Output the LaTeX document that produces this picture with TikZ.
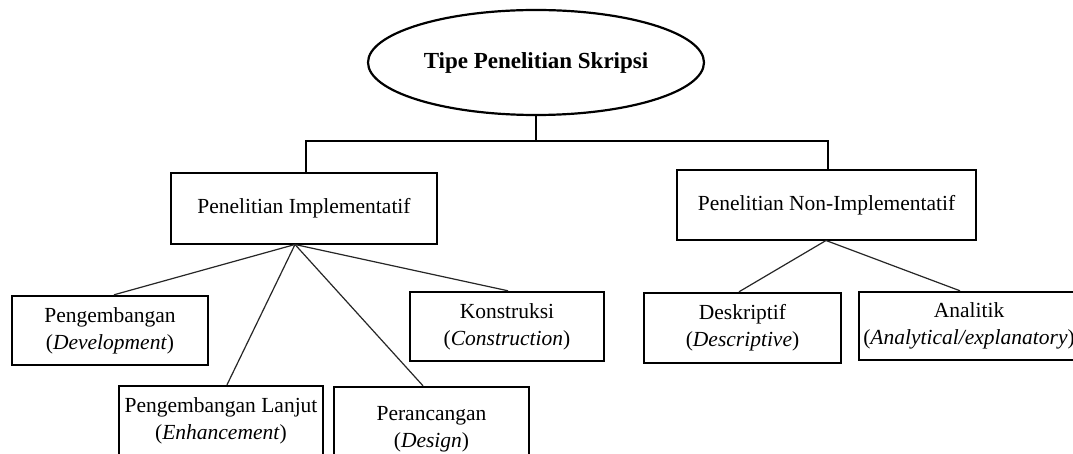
\documentclass[tikz,border=0pt]{standalone}
\usepackage{fontspec}
\setmainfont{Liberation Serif}
\usetikzlibrary{shapes.geometric,calc}
\tikzset{
  frame/.style={draw=black, line width=2.4pt, rectangle, align=center, inner sep=0pt,
    font=\fontsize{21.5}{27}\selectfont},
  oval/.style={draw=black, line width=2.2pt, ellipse, inner sep=0pt,
    font=\fontsize{23}{28}\selectfont\bfseries},
  trunk/.style={draw=black, line width=2.4pt},
  twig/.style={draw=black!85, line width=1.2pt}
}
\begin{document}
\begin{tikzpicture}[x=1pt,y=-1pt]
\useasboundingbox (0,0) rectangle (1073,454);
\clip (0,0) rectangle (1073,454);
\fill[white] (0,0) rectangle (1073,454);

\node[oval, minimum width=336, minimum height=105] (title) at (536,62.5) {Tipe Penelitian Skripsi};

\node[frame, minimum width=266, minimum height=71] (impl) at (304,208.5) {Penelitian Implementatif};
\node[frame, minimum width=299, minimum height=70] (nonimpl) at (826.5,205) {Penelitian Non-Implementatif};

\node[frame, minimum width=196, minimum height=69] (peng) at (110,330.5) {Pengembangan\\(\textit{Development})};
\node[frame, minimum width=204, minimum height=69] (lanjut) at (221,420.5) {Pengembangan Lanjut\\(\textit{Enhancement})};
\node[frame, minimum width=195, minimum height=84] (ranc) at (431.5,429) {Perancangan\\(\textit{Design})};
\node[frame, minimum width=194, minimum height=69] (konst) at (507,326.5) {Konstruksi\\(\textit{Construction})};
\node[frame, minimum width=197, minimum height=70] (desk) at (742.5,328) {Deskriptif\\(\textit{Descriptive})};
\node[frame, minimum width=220, minimum height=68] (anal) at (969,326) {Analitik\\(\textit{Analytical/explanatory})};

\coordinate (bar) at (536,141);
\coordinate (ia) at (295,244.5);
\coordinate (na) at (826,240.5);

\draw[trunk] (title.south) -- (bar);
\draw[trunk] (impl.north -| 306,0) |- (bar) -| (nonimpl.north -| 828,0);

\draw[twig] (ia) -- (peng.north -| 114,0);
\draw[twig] (ia) -- (lanjut.north -| 227,0);
\draw[twig] (ia) -- (ranc.north -| 423,0);
\draw[twig] (ia) -- (konst.north -| 508,0);
\draw[twig] (na) -- (desk.north -| 739,0);
\draw[twig] (na) -- (anal.north -| 960,0);
\end{tikzpicture}
\end{document}
